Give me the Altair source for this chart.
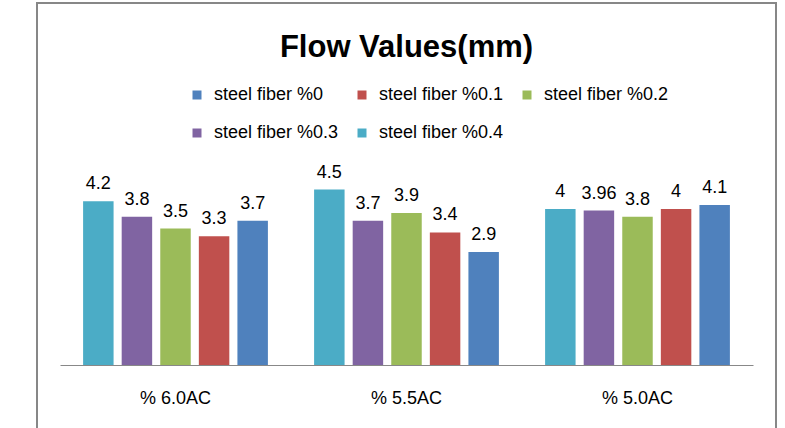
import altair as alt
import pandas as pd

title_text = ["Flow Values(mm)"]
categories = ["% 6.0AC", "% 5.5AC", "% 5.0AC"]
series = ["steel fiber %0", "steel fiber %0.1", "steel fiber %0.2",
          "steel fiber %0.3", "steel fiber %0.4"]
vals_0 = [3.7, 2.9, 4.1]
vals_01 = [3.3, 3.4, 4]
vals_02 = [3.5, 3.9, 3.8]
vals_03 = [3.8, 3.7, 3.96]
vals_04 = [4.2, 4.5, 4]
colors = ["#4F81BD", "#C0504D", "#9BBB59", "#8064A2", "#4BACC6"]

rows = []
for s, vals in zip(series, [vals_0, vals_01, vals_02, vals_03, vals_04]):
    for c, v in zip(categories, vals):
        rows.append({"cat": c, "series": s, "value": v, "label": f"{v:g}"})
df = pd.DataFrame(rows)

FONT = "Liberation Sans"

x = alt.X("cat:N", sort=categories, title=None,
          scale=alt.Scale(paddingInner=0.2, paddingOuter=0.1),
          axis=alt.Axis(labelAngle=0, tickSize=0, domainColor="#888888",
                        labelFont=FONT, labelFontSize=18, labelColor="#000000",
                        labelBaseline="top", labelPadding=24))
xo = alt.XOffset("series:N", sort="descending",
                 scale=alt.Scale(paddingInner=0.21, paddingOuter=0))
y = alt.Y("value:Q", scale=alt.Scale(domain=[0, 5]), axis=None)

bars = alt.Chart(df).mark_bar().encode(
    x=x, xOffset=xo, y=y,
    color=alt.Color("series:N", scale=alt.Scale(domain=series, range=colors),
                    legend=alt.Legend(orient="none", legendX=128, legendY=-84,
                                      direction="horizontal", columns=3,
                                      title=None, symbolType="square",
                                      symbolSize=81, symbolStrokeWidth=0,
                                      labelFont=FONT, labelFontSize=18,
                                      labelColor="#000000", labelOffset=8,
                                      columnPadding=14, rowPadding=20,
                                      labelLimit=300)),
)

texts = alt.Chart(df).mark_text(baseline="alphabetic", dy=-12, font=FONT,
                                fontSize=18, color="#000000").encode(
    x=x, xOffset=xo, y=y, text="label:N"
)

border = alt.Chart(pd.DataFrame({"a": [0]})).mark_rect(
    fill=None, stroke="#878787", strokeWidth=2
).encode(x=alt.value(-23), x2=alt.value(716), y=alt.value(-167), y2=alt.value(320))

title = alt.Chart(pd.DataFrame({"t": title_text})).mark_text(
    font=FONT, fontSize=31, fontWeight="bold", color="#000000",
    align="center", baseline="alphabetic"
).encode(x=alt.value(346.5), y=alt.value(-113), text="t:N")

chart = alt.layer(border, title, bars, texts).properties(
    width=693, height=195,
    autosize=alt.AutoSizeParams(type="none"),
    padding={"left": 60, "top": 170, "right": 32, "bottom": 63},
).configure(background="white", view=alt.ViewConfig(stroke=None))

chart.save("out.html", embed_options={"renderer": "svg", "actions": False})
